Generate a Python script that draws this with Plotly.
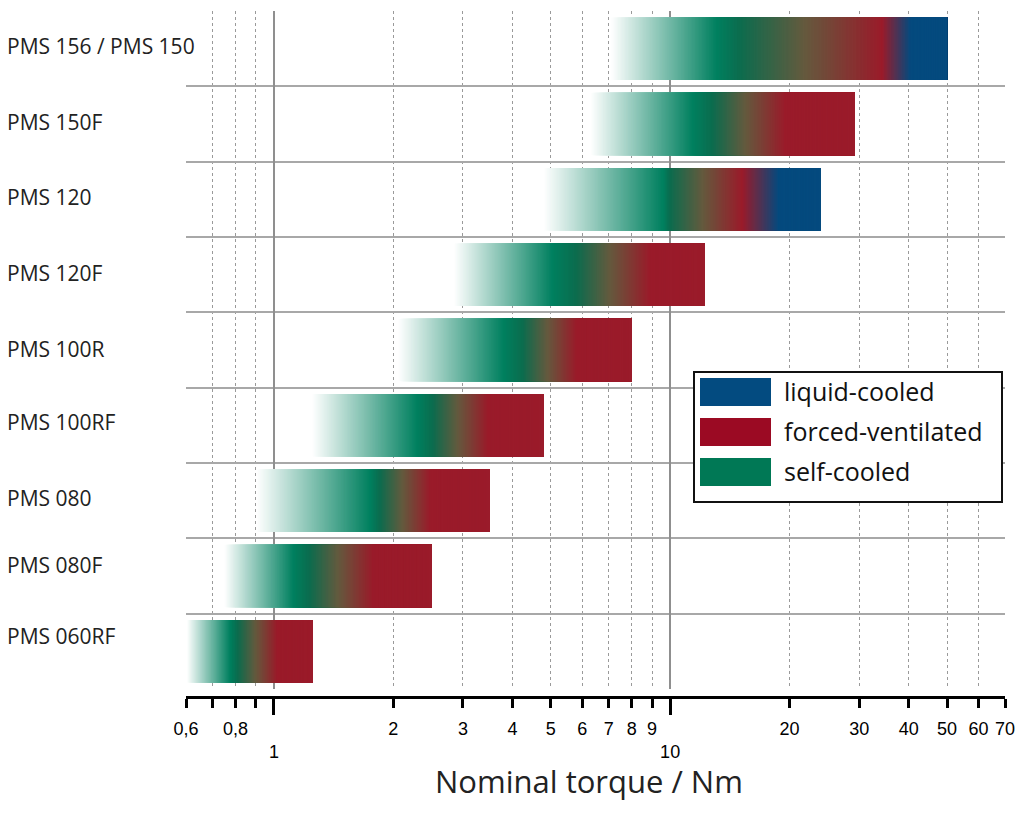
import numpy as np
import plotly.graph_objects as go

# ---------------- data ----------------
models = ["PMS 156 / PMS 150", "PMS 150F", "PMS 120", "PMS 120F", "PMS 100R",
          "PMS 100RF", "PMS 080", "PMS 080F", "PMS 060RF"]
fade_start = [7.1, 6.3, 4.8, 2.85, 2.06, 1.25, 0.905, 0.75, 0.603]
self_cooled_peak = [13.1, 11.4, 9.6, 5.05, 3.8, 2.3, 1.75, 1.12, 0.775]
self_cooled_end = [15.0, 12.8, 10.0, 5.8, 4.25, 2.52, 1.85, 1.23, 0.81]
forced_start = [34.3, 19.5, 15.2, 8.9, 5.8, 3.47, 2.48, 1.78, 1.02]
liquid_start = [40.4, None, 18.8, None, None, None, None, None, None]
max_torque = [50, 29.2, 24.0, 12.2, 8.0, 4.8, 3.5, 2.5, 1.25]

legend_labels = ["liquid-cooled", "forced-ventilated", "self-cooled"]
legend_colors = ["#034B80", "#9B0A23", "#007855"]

tick_minor_vals = [0.6, 0.7, 0.8, 0.9, 2, 3, 4, 5, 6, 7, 8, 9, 20, 30, 40, 50, 60, 70]
tick_minor_text = ["0,6", "", "0,8", "", "2", "3", "4", "5", "6", "7", "8", "9",
                   "20", "30", "40", "50", "60", "70"]
tick_major_vals = [1, 10]
tick_major_text = ["1", "10"]

x_min, x_max = 0.6, 70

# vertical nudges of row labels (pixels, up is positive)
label_dy = [3, 2, 2, 2, 1, 3, 3, 11, 15]

# ---------------- colours ----------------
WHITE = (255, 255, 255)
TEAL = (0, 128, 95)
DKGREEN = (12, 108, 78)
OLIVE = (100, 90, 62)
RED = (154, 27, 42)
BLUE = (4, 74, 126)


def stops_for(i):
    s = [(fade_start[i], WHITE), (self_cooled_peak[i], TEAL), (self_cooled_end[i], DKGREEN)]
    lg = np.log10
    mid = 10 ** (lg(self_cooled_end[i]) + 0.45 * (lg(forced_start[i]) - lg(self_cooled_end[i])))
    s.append((mid, OLIVE))
    s.append((forced_start[i], RED))
    if liquid_start[i] is not None:
        s.append((liquid_start[i], BLUE))
        s.append((max_torque[i], BLUE))
    else:
        s.append((max_torque[i], RED))
    return s


def color_at(v, stops):
    lv = np.log10(v)
    for (a, ca), (b, cb) in zip(stops[:-1], stops[1:]):
        la, lb = np.log10(a), np.log10(b)
        if la <= lv <= lb:
            t = 0 if lb == la else (lv - la) / (lb - la)
            c = [round(ca[k] + t * (cb[k] - ca[k])) for k in range(3)]
            return "rgb(%d,%d,%d)" % tuple(c)
    c = stops[-1][1] if lv > np.log10(stops[-1][0]) else stops[0][1]
    return "rgb(%d,%d,%d)" % tuple(c)


n = len(models)
row_y = [n - 1 - i for i in range(n)]

bx, bbase, by, bcol = [], [], [], []
NSEG = 240
for i in range(n):
    st = stops_for(i)
    edges = np.logspace(np.log10(fade_start[i]), np.log10(max_torque[i]), NSEG + 1)
    for k in range(NSEG):
        lo, hi = edges[k], edges[k + 1]
        mid = np.sqrt(lo * hi)
        bbase.append(lo)
        bx.append(max_torque[i] - lo)
        by.append(row_y[i])
        bcol.append(color_at(mid, st))

fig = go.Figure()
fig.add_trace(go.Bar(
    x=bx, base=bbase, y=by, orientation="h", width=0.83,
    marker=dict(color=bcol, line=dict(width=0)),
    hoverinfo="skip", showlegend=False,
))
# helper trace so the overlay axis is created
fig.add_trace(go.Scatter(x=[1], y=[0], xaxis="x2", mode="markers",
                         marker=dict(opacity=0), hoverinfo="skip", showlegend=False))

# ---------------- layout geometry ----------------
W, H = 1019, 822
L, R = 186, 1005
PT, PB = 11, 697      # paper top / bottom (px)
plot_bottom = 689
row_px = (plot_bottom - PT) / n


def px(xp):
    return (xp - L) / (R - L)


def py(yp):
    return (PB - yp) / (PB - PT)


fig.update_layout(
    width=W, height=H, autosize=False,
    margin=dict(l=L, r=W - R, t=PT, b=H - PB, pad=0, autoexpand=False),
    paper_bgcolor="white", plot_bgcolor="white",
    barmode="overlay",
    showlegend=False,
    xaxis=dict(
        type="log", range=[np.log10(x_min), np.log10(x_max)],
        anchor="free", position=0, automargin=False,
        tickmode="array", tickvals=tick_minor_vals, ticktext=tick_minor_text,
        ticks="outside", ticklen=9, tickwidth=2.5, tickcolor="black",
        showline=True, linecolor="black", linewidth=3,
        showgrid=True, gridcolor="#9a9a9a", gridwidth=1, griddash="dot",
        zeroline=False, ticklabelstandoff=5,
        tickfont=dict(family="Liberation Sans, Arial", size=18, color="black"),
    ),
    xaxis2=dict(
        type="log", range=[np.log10(x_min), np.log10(x_max)],
        overlaying="x", anchor="free", position=0, automargin=False,
        tickmode="array", tickvals=tick_major_vals, ticktext=tick_major_text,
        ticks="outside", ticklen=17, tickwidth=2.5, tickcolor="black",
        showline=False,
        showgrid=True, gridcolor="#8f8f8f", gridwidth=2,
        zeroline=False, ticklabelstandoff=21,
        tickfont=dict(family="Liberation Sans, Arial", size=18, color="black"),
    ),
    yaxis=dict(
        range=[-0.5, n - 0.5], automargin=False,
        domain=[(PB - plot_bottom) / (PB - PT), 1],
        tickmode="array", tickvals=[v - 0.5 for v in range(n)],
        showticklabels=False, ticks="",
        showgrid=True, gridcolor="#a8a8a8", gridwidth=2,
        zeroline=False, showline=False,
    ),
)

# row labels
for i, m in enumerate(models):
    fig.add_annotation(
        x=px(5), xref="paper", y=row_y[i] + label_dy[i] / row_px, yref="y",
        text=m, showarrow=False, xanchor="left", yanchor="middle",
        font=dict(family="Open Sans", size=21, color="#222222"),
    )

# axis title
fig.add_annotation(
    x=px(589), xref="paper", y=py(781), yref="paper",
    text="Nominal torque / Nm", showarrow=False, xanchor="center", yanchor="middle",
    font=dict(family="Open Sans", size=31, color="#222222"),
)

# legend (drawn manually to match the large swatches)
fig.add_shape(type="rect", xref="paper", yref="paper",
              x0=px(694), x1=px(1002), y0=py(502), y1=py(372),
              fillcolor="white", line=dict(color="#111111", width=2), layer="above")
sw_top = [378, 418, 458]
for lab, col, t in zip(legend_labels, legend_colors, sw_top):
    fig.add_shape(type="rect", xref="paper", yref="paper",
                  x0=px(700), x1=px(771), y0=py(t + 28), y1=py(t),
                  fillcolor=col, line=dict(width=0), layer="above")
    fig.add_annotation(x=px(782), xref="paper", y=py(t + 13), yref="paper",
                       text=lab, showarrow=False, xanchor="left", yanchor="middle",
                       font=dict(family="Open Sans", size=25, color="#111111"))

fig.write_html("out.html")
